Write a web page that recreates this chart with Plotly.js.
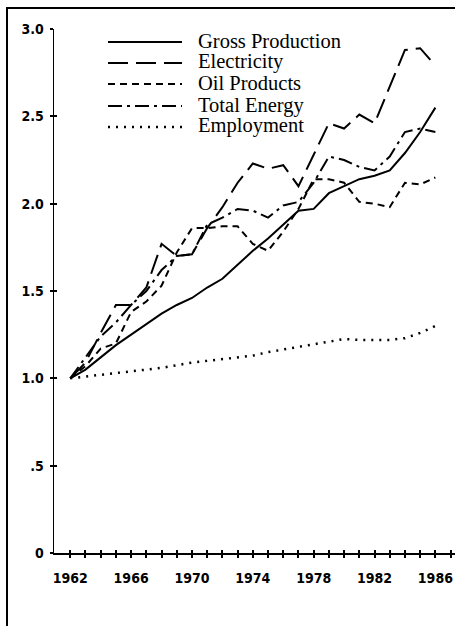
<!DOCTYPE html>
<html><head><meta charset="utf-8">
<script src="https://cdn.plot.ly/plotly-3.0.1.min.js"></script>
<style>html,body{margin:0;padding:0;background:#fff}#chart{width:455px;height:626px}</style>
</head><body><div id="chart"></div>
<script>
const years = [1962,1963,1964,1965,1966,1967,1968,1969,1970,1971,1972,1973,1974,1975,1976,1977,1978,1979,1980,1981,1982,1983,1984,1985,1986];
const grossProduction = [1.00,1.05,1.12,1.19,1.25,1.31,1.37,1.42,1.46,1.52,1.57,1.65,1.73,1.80,1.88,1.96,1.97,2.06,2.10,2.14,2.16,2.19,2.29,2.41,2.55];
const electricity = [1.00,1.09,1.26,1.42,1.42,1.52,1.77,1.70,1.71,1.86,1.98,2.12,2.23,2.20,2.22,2.10,2.28,2.46,2.43,2.51,2.46,2.67,2.88,2.89,2.79];
const oilProducts = [1.00,1.07,1.17,1.20,1.38,1.44,1.53,1.72,1.86,1.86,1.87,1.87,1.77,1.73,1.84,1.97,2.14,2.14,2.12,2.01,2.00,1.98,2.12,2.11,2.15];
const totalEnergy = [1.00,1.12,1.24,1.32,1.42,1.50,1.62,1.70,1.71,1.88,1.92,1.97,1.96,1.92,1.99,2.01,2.12,2.27,2.25,2.21,2.19,2.27,2.41,2.43,2.41];
const employment = [1.00,1.01,1.02,1.03,1.04,1.05,1.06,1.075,1.09,1.10,1.11,1.12,1.13,1.15,1.165,1.18,1.195,1.21,1.225,1.22,1.22,1.22,1.23,1.26,1.30];
const seriesNames = ['Gross Production','Electricity','Oil Products','Total Energy','Employment'];
const xTickVals = [1962,1963,1964,1965,1966,1967,1968,1969,1970,1971,1972,1973,1974,1975,1976,1977,1978,1979,1980,1981,1982,1983,1984,1985,1986,1987];
const xTickText = ['1962','','','','1966','','','','1970','','','','1974','','','','1978','','','','1982','','','','1986',''];
const yTickVals = [0,0.5,1,1.5,2,2.5,3];
const yTickText = ['0','.5','1.0','1.5','2.0','2.5','3.0'];

const seriesValues = [grossProduction, electricity, oilProducts, totalEnergy, employment];
const dashes = ['solid','20px,8px','7px,5px','14px,5px,3px,5px','2px,6px'];
const widths = [2, 2, 2, 2, 2.5];

const traces = seriesValues.map((v, i) => ({
  x: years, y: v, type: 'scatter', mode: 'lines', name: seriesNames[i],
  line: {color: '#000', width: widths[i], dash: dashes[i]}, showlegend: false, hoverinfo: 'skip'
}));
traces.push({x: [], y: [], xaxis: 'x2', yaxis: 'y2', type: 'scatter', mode: 'lines', showlegend: false});

// pixel -> paper helpers (plot area: x 54..455, y 29..553)
const L = 54, W = 401, T = 29, H = 524;
const px = p => (p - L) / W;
const py = p => (T + H - p) / H;

const shapes = [
  {type: 'line', xref: 'paper', yref: 'paper', x0: px(7), x1: px(7), y0: py(7), y1: py(640), line: {color: '#000', width: 2}},
  {type: 'line', xref: 'paper', yref: 'paper', x0: px(6), x1: px(470), y0: py(8), y1: py(8), line: {color: '#000', width: 2}}
];
const annotations = [];
const rowY = [42, 63, 84, 106, 127];
seriesNames.forEach((n, i) => {
  shapes.push({type: 'line', xref: 'paper', yref: 'paper', x0: px(108), x1: px(182), y0: py(rowY[i]), y1: py(rowY[i]),
    line: {color: '#000', width: widths[i], dash: dashes[i]}});
  annotations.push({xref: 'paper', yref: 'paper', x: px(196), y: py(rowY[i] - 1), xanchor: 'left', yanchor: 'middle',
    text: n, showarrow: false, font: {family: 'Liberation Serif, Times New Roman, serif', size: 20.5, color: '#000'}});
});

const tickFont = {family: 'DejaVu Sans Condensed, DejaVu Sans, sans-serif', size: 14, color: '#000', weight: 'bold'};
const xr = [1960.93, 1987.29];
const layout = {
  width: 455, height: 626,
  margin: {l: L, r: 0, t: T, b: 626 - T - H, pad: 0},
  paper_bgcolor: '#fff', plot_bgcolor: '#fff',
  showlegend: false,
  xaxis: {range: xr, tickmode: 'array', tickvals: xTickVals, ticktext: xTickText, ticks: 'outside', ticklen: 3, tickwidth: 2,
    tickcolor: '#000', showline: true, linewidth: 2, linecolor: '#000', showgrid: false, zeroline: false,
    ticklabelstandoff: 8, tickfont: tickFont, fixedrange: true},
  xaxis2: {range: xr, overlaying: 'x', anchor: 'y', side: 'bottom', tickmode: 'array', tickvals: xTickVals, ticktext: xTickText,
    ticks: 'inside', ticklen: 3, tickwidth: 2, tickcolor: '#000', showticklabels: false, showline: false, showgrid: false, zeroline: false},
  yaxis: {range: [0, 3], tickmode: 'array', tickvals: yTickVals, ticktext: yTickText, ticks: 'outside', ticklen: 3, tickwidth: 2,
    tickcolor: '#000', showline: true, linewidth: 1.5, linecolor: '#000', showgrid: false, zeroline: false,
    ticklabelstandoff: 3, tickfont: tickFont, fixedrange: true},
  yaxis2: {range: [0, 3], overlaying: 'y', anchor: 'x', side: 'left', tickmode: 'array', tickvals: yTickVals, ticktext: yTickText,
    ticks: 'inside', ticklen: 3, tickwidth: 2, tickcolor: '#000', showticklabels: false, showline: false, showgrid: false, zeroline: false},
  shapes: shapes,
  annotations: annotations
};
Plotly.newPlot('chart', traces, layout, {displayModeBar: false, staticPlot: true});
</script>
</body></html>
